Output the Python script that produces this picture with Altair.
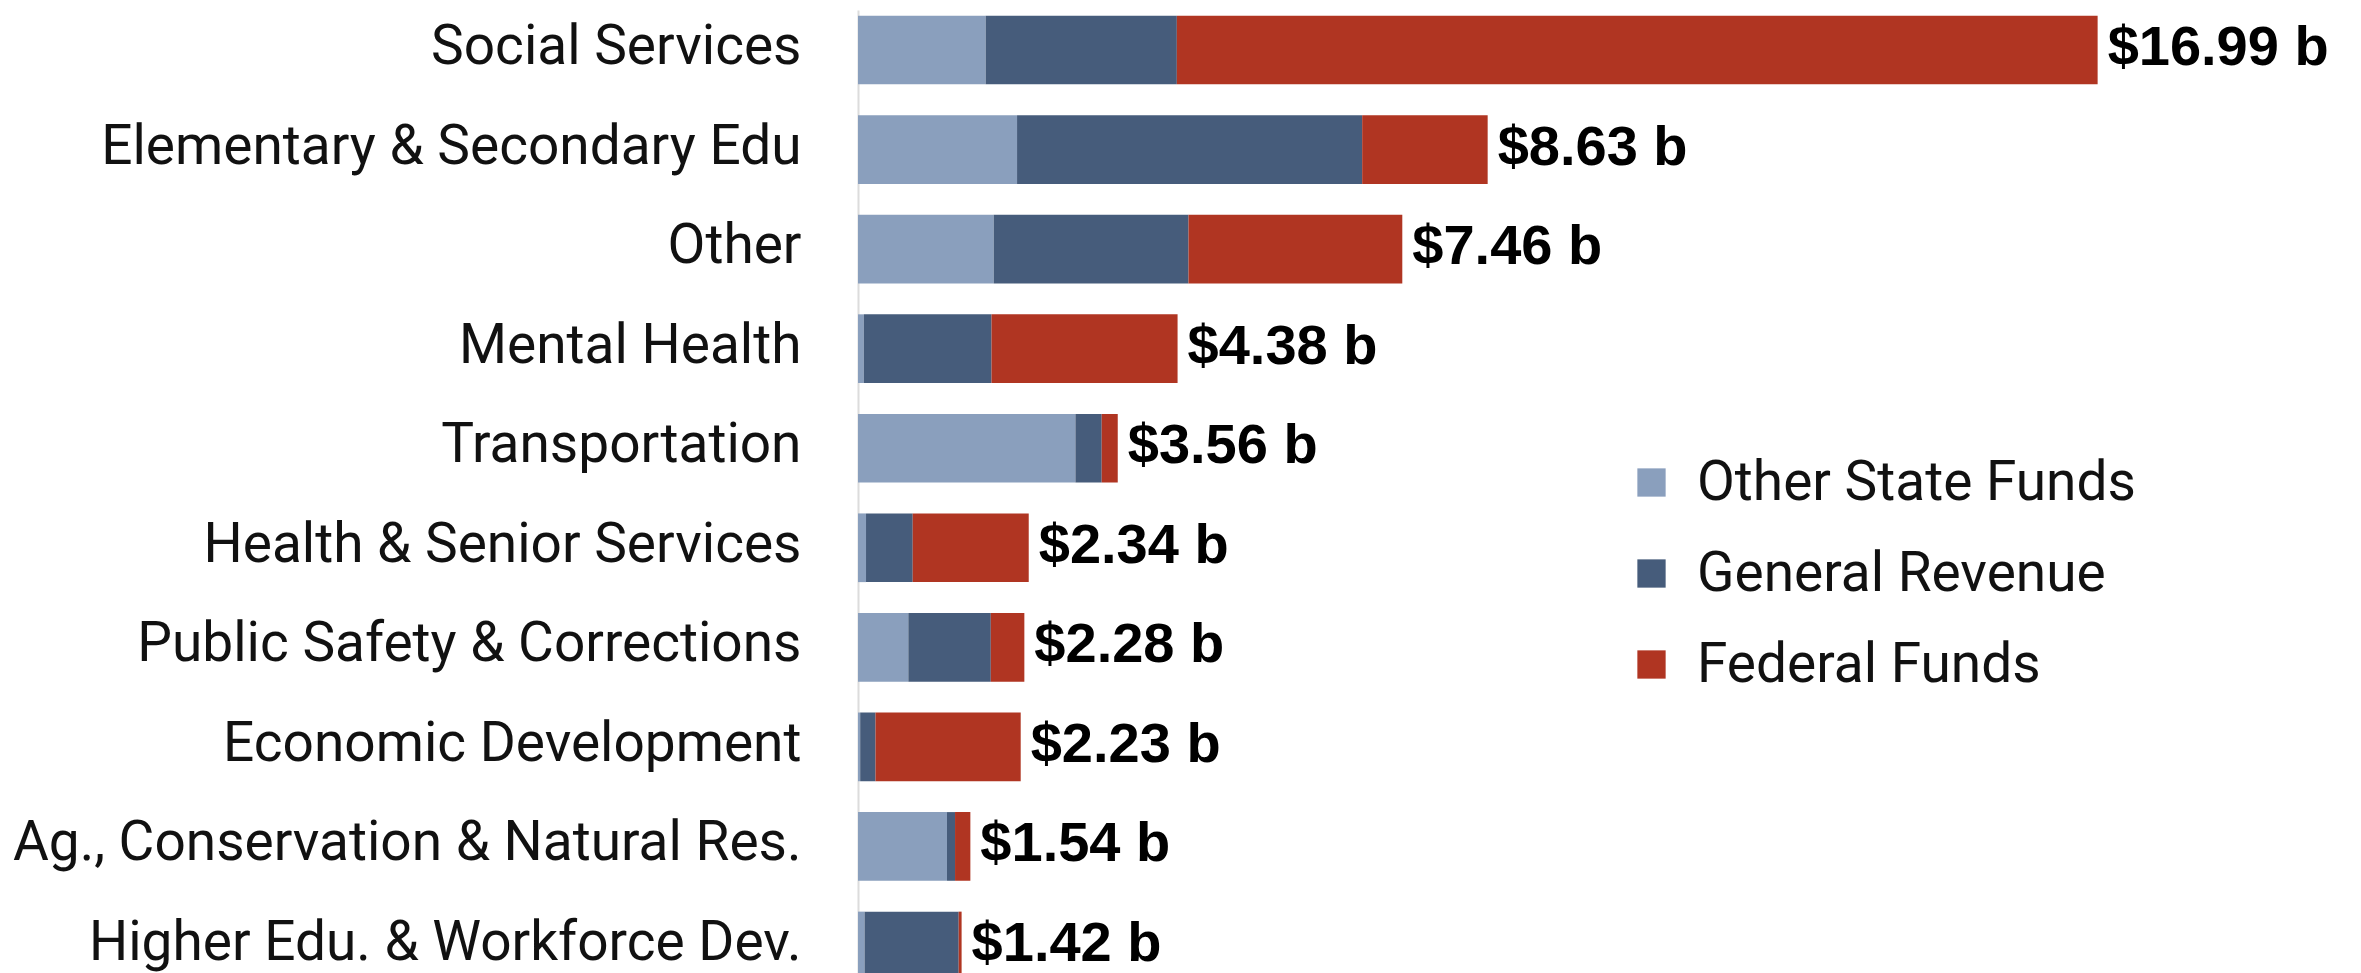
import altair as alt
import pandas as pd

categories = [
    "Social Services",
    "Elementary & Secondary Edu",
    "Other",
    "Mental Health",
    "Transportation",
    "Health & Senior Services",
    "Public Safety & Corrections",
    "Economic Development",
    "Ag., Conservation & Natural Res.",
    "Higher Edu. & Workforce Dev.",
]
other_state = [1.75, 2.18, 1.86, 0.08, 2.98, 0.11, 0.69, 0.03, 1.22, 0.09]
general_rev = [2.62, 4.73, 2.67, 1.75, 0.36, 0.64, 1.13, 0.21, 0.11, 1.29]
federal = [12.62, 1.72, 2.93, 2.55, 0.22, 1.59, 0.46, 1.99, 0.21, 0.04]
totals = [16.99, 8.63, 7.46, 4.38, 3.56, 2.34, 2.28, 2.23, 1.54, 1.42]
total_labels = ["$16.99 b", "$8.63 b", "$7.46 b", "$4.38 b", "$3.56 b",
                "$2.34 b", "$2.28 b", "$2.23 b", "$1.54 b", "$1.42 b"]

series_names = ["Other State Funds", "General Revenue", "Federal Funds"]
series_colors = ["#8a9fbd", "#465c7b", "#b03522"]

rows = []
for i, c in enumerate(categories):
    for k, (name, vals) in enumerate(zip(series_names, [other_state, general_rev, federal])):
        rows.append({"cat": c, "series": name, "value": vals[i], "order": k})
df = pd.DataFrame(rows)
tot_df = pd.DataFrame({"cat": categories, "total": totals, "label": total_labels})

yscale = alt.Scale(range=[2, 978], paddingInner=0.31, paddingOuter=0.057)
xscale = alt.Scale(domain=[0, 20.49], nice=False, zero=True)

bars = alt.Chart(df).mark_bar().encode(
    y=alt.Y("cat:N", sort=categories, scale=yscale,
            axis=alt.Axis(title=None, ticks=False, tickSize=0, labelFontSize=55,
                          labelFont="Roboto", labelColor="#111111", labelPadding=57,
                          labelOffset=-3,
                          labelLimit=0, domainColor="#dcdcdc", domainWidth=2, grid=False)),
    x=alt.X("value:Q", stack="zero", scale=xscale, axis=None),
    color=alt.Color("series:N", scale=alt.Scale(domain=series_names, range=series_colors),
                    legend=alt.Legend(title=None, orient="none", legendX=766, legendY=447,
                                      symbolType="square", symbolSize=800, symbolStrokeWidth=0,
                                      labelFontSize=55, labelFont="Roboto", labelColor="#111111",
                                      rowPadding=35, labelOffset=18, padding=0, labelLimit=0)),
    order=alt.Order("order:Q"),
)

texts = alt.Chart(tot_df).mark_text(
    align="left", baseline="middle", dx=10, dy=-2, fontSize=56, fontWeight="bold",
    font="Liberation Sans", color="#000000"
).encode(
    y=alt.Y("cat:N", sort=categories, scale=yscale),
    x=alt.X("total:Q", scale=xscale),
    text="label:N",
)

chart = (bars + texts).properties(
    width=1495, height=965,
    autosize=alt.AutoSizeParams(type="none"),
    padding={"left": 850, "top": 0, "right": 0, "bottom": 0},
).configure_view(stroke=None)

chart.save("out.html", embed_options={"renderer": "svg", "actions": False})
